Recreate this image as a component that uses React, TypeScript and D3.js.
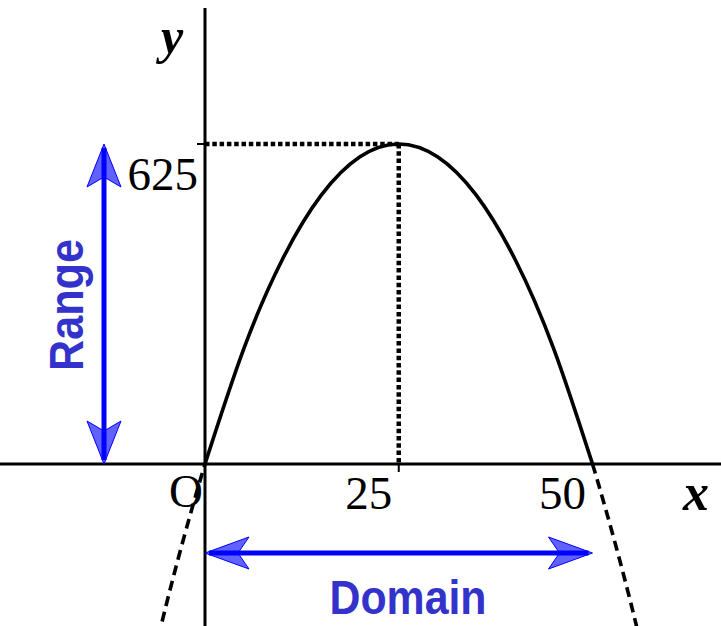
import React from "react";
import * as d3 from "d3";

const W = 721;
const H = 626;

// Parabola samples (roots at 0 and 50, max 625 at 25)
const solidX = [0, 5, 10, 15, 20, 25, 30, 35, 40, 45, 50];
const solidY = [0, 225, 400, 525, 600, 625, 600, 525, 400, 225, 0];
const leftDashX = [-7, -5, -3, -1, 0];
const leftDashY = [-399, -275, -159, -51, 0];
const rightDashX = [50, 51, 53, 55, 57];
const rightDashY = [0, -51, -159, -275, -399];

const vertexX = 25;
const vertexY = 625;
const xTickLabels = ["25", "50"];
const xTickValues = [25, 50];
const yTickLabels = ["625"];
const yTickValues = [625];

export default function App() {
  const x = d3.scaleLinear().domain([0, 50]).range([205, 592.5]);
  const y = d3.scaleLinear().domain([0, 625]).range([464, 144]);

  const mk = (xs: number[], ys: number[]) =>
    d3
      .line<number>()
      .x((d) => x(d))
      .y((_, i) => y(ys[i]))
      .curve(d3.curveNatural)(xs) as string;

  const blue = "#0000ff";
  const textBlue = "#3333cc";

  const x0 = x(0);
  const y0 = y(0);
  const rx = 104;

  const arrowFill = { fill: blue, fillOpacity: 0.62, stroke: blue, strokeWidth: 1 };

  return (
    <svg
      width={W}
      height={H}
      style={{ position: "absolute", left: 0, top: 0, background: "#fff" }}
    >
      <defs>
        <clipPath id="clip">
          <rect x={0} y={0} width={W} height={H} />
        </clipPath>
      </defs>
      {/* axes */}
      <line x1={0} x2={W} y1={y0} y2={y0} stroke="#000" strokeWidth={3} />
      <line x1={x0} x2={x0} y1={8} y2={H} stroke="#000" strokeWidth={3} />
      {/* ticks */}
      {yTickValues.map((v) => (
        <line key={"yt" + v} x1={x0 - 8} x2={x0} y1={y(v)} y2={y(v)} stroke="#000" strokeWidth={2} />
      ))}
      {xTickValues.slice(0, 1).map((v) => (
        <line key={"xt" + v} x1={x(v)} x2={x(v)} y1={y0} y2={y0 + 8} stroke="#000" strokeWidth={2} />
      ))}
      {/* dotted guides */}
      <line
        x1={x0}
        x2={x(vertexX)}
        y1={y(vertexY)}
        y2={y(vertexY)}
        stroke="#000"
        strokeWidth={4.5}
        strokeDasharray="4.5,2.8"
      />
      <line
        x1={x(vertexX)}
        x2={x(vertexX)}
        y1={y(vertexY)}
        y2={y0}
        stroke="#000"
        strokeWidth={4.5}
        strokeDasharray="4.5,2.8"
      />
      {/* curve */}
      <g clipPath="url(#clip)">
        <path d={mk(solidX, solidY)} fill="none" stroke="#000" strokeWidth={3.6} />
        <path d={mk(leftDashX, leftDashY)} fill="none" stroke="#000" strokeWidth={3.6} strokeDasharray="10,6" />
        <path d={mk(rightDashX, rightDashY)} fill="none" stroke="#000" strokeWidth={3.6} strokeDasharray="10,6" />
      </g>
      {/* labels */}
      <g fontFamily="'Liberation Serif', 'Times New Roman', serif" fontSize={47} fill="#000">
        {yTickValues.map((v, i) => (
          <text key={"yl" + v} x={198} y={y(v) + 46} textAnchor="end">
            {yTickLabels[i]}
          </text>
        ))}
        {xTickValues.map((v, i) => (
          <text key={"xl" + v} x={x(v) - 30} y={509} textAnchor="middle">
            {xTickLabels[i]}
          </text>
        ))}
        <text x={186} y={507} textAnchor="middle">O</text>
        <text x={172} y={53} textAnchor="middle" fontWeight="bold" fontStyle="italic" fontSize={50}>
          y
        </text>
        <text x={696} y={510} textAnchor="middle" fontWeight="bold" fontStyle="italic" fontSize={52}>
          x
        </text>
      </g>
      {/* Range arrow */}
      <line x1={rx} x2={rx} y1={y(vertexY) + 4} y2={y0 - 4} stroke={blue} strokeWidth={5} />
      <path
        d={`M${rx},${y(vertexY)} L${rx + 17},${y(vertexY) + 43} L${rx},${y(vertexY) + 33} L${rx - 17},${y(vertexY) + 43} Z`}
        {...arrowFill}
      />
      <path d={`M${rx},${y0} L${rx + 17},${y0 - 43} L${rx},${y0 - 33} L${rx - 17},${y0 - 43} Z`} {...arrowFill} />
      {/* Domain arrow */}
      <line x1={x0 + 4} x2={x(50) - 4} y1={553} y2={553} stroke={blue} strokeWidth={5} />
      <path d={`M${x0},553 L${x0 + 44},537 L${x0 + 33},553 L${x0 + 44},569 Z`} {...arrowFill} />
      <path d={`M${x(50)},553 L${x(50) - 44},537 L${x(50) - 33},553 L${x(50) - 44},569 Z`} {...arrowFill} />
      <g fontFamily="'Liberation Sans', Arial, sans-serif" fontWeight="bold" fill={textBlue} fontSize={49}>
        <text x={408} y={614} textAnchor="middle" textLength={157} lengthAdjust="spacingAndGlyphs">
          Domain
        </text>
        <text
          transform={`translate(83,305) rotate(-90)`}
          textAnchor="middle"
          textLength={132}
          lengthAdjust="spacingAndGlyphs"
        >
          Range
        </text>
      </g>
    </svg>
  );
}
